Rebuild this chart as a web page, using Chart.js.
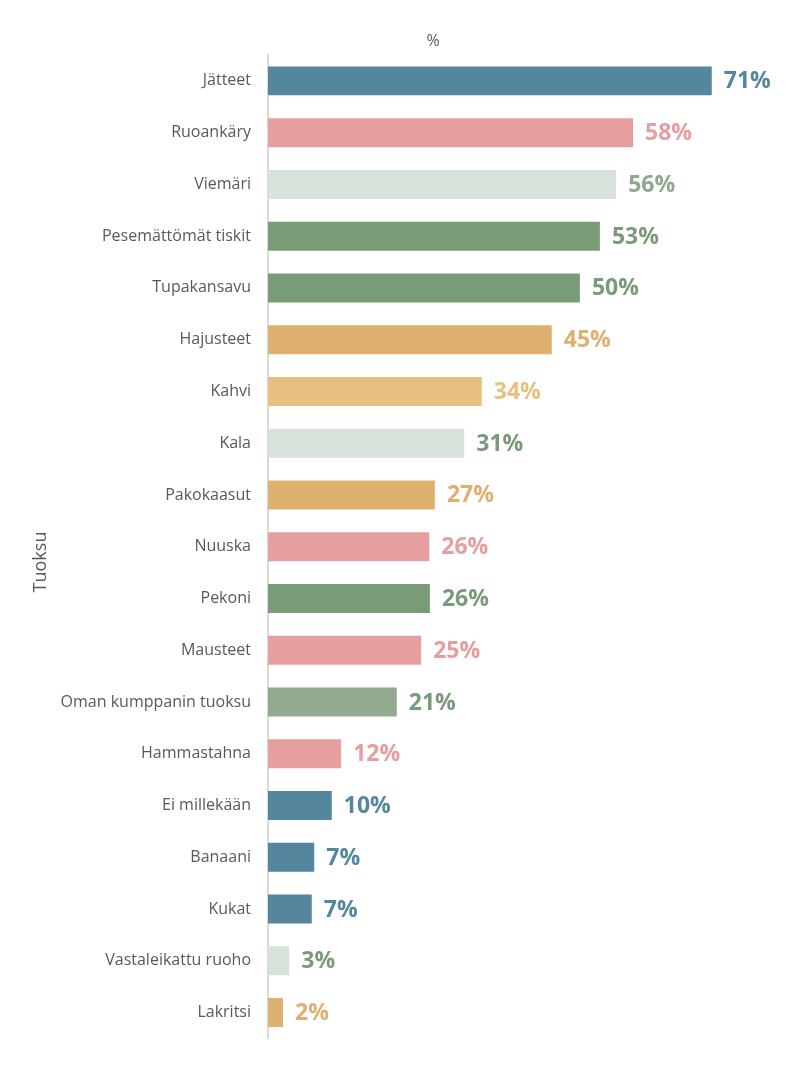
<!DOCTYPE html>
<html>
<head>
<meta charset="utf-8">
<script src="https://cdn.jsdelivr.net/npm/chart.js@4/dist/chart.umd.min.js"></script>
<style>
  html, body { margin: 0; padding: 0; background: #fff; }
  #wrap { width: 790px; height: 1065px; }
</style>
</head>
<body>
<div id="wrap"><canvas id="chart"></canvas></div>
<script>
// Tuoksut, osuus vastaajista (%)
const categories = [
    'Jätteet', 'Ruoankäry', 'Viemäri', 'Pesemättömät tiskit', 'Tupakansavu',
    'Hajusteet', 'Kahvi', 'Kala', 'Pakokaasut', 'Nuuska', 'Pekoni', 'Mausteet',
    'Oman kumppanin tuoksu', 'Hammastahna', 'Ei millekään', 'Banaani', 'Kukat',
    'Vastaleikattu ruoho', 'Lakritsi'
];
const values = [
    71.0, 58.4, 55.7, 53.1, 49.9, 45.4, 34.2, 31.4, 26.7, 25.8, 25.9, 24.5,
    20.6, 11.7, 10.2, 7.4, 7.0, 3.4, 2.4
];
const xTicks = { min: 0, max: 80 };

const BLUE = '#54879d', PINK = '#e79e9f', PALE = '#d7e2da', GREEN = '#7a9b77',
      ORANGE = '#deb170', LORANGE = '#e9bf80', MGREEN = '#92aa8f';

const barColors = [
    BLUE, PINK, PALE, GREEN, GREEN, ORANGE, LORANGE, PALE, ORANGE, PINK, GREEN, PINK,
    MGREEN, PINK, BLUE, BLUE, BLUE, PALE, ORANGE
];
const labelColors = [
    BLUE, PINK, '#8ea88c', GREEN, GREEN, ORANGE, LORANGE, GREEN, ORANGE, PINK, GREEN, PINK,
    GREEN, PINK, BLUE, BLUE, BLUE, GREEN, ORANGE
];

// value labels at bar ends, "%" caption above the plot, rotated axis title
const valueLabels = {
    id: 'valueLabels',
    afterDatasetsDraw: function (chart) {
        const ctx = chart.ctx;
        const meta = chart.getDatasetMeta(0);
        ctx.save();
        ctx.font = 'bold 23px "Open Sans", sans-serif';
        ctx.textBaseline = 'middle';
        ctx.textAlign = 'left';
        meta.data.forEach(function (bar, i) {
            ctx.fillStyle = labelColors[i];
            ctx.fillText(Math.round(values[i]) + '%', bar.x + 12, bar.y + 1);
        });
        ctx.fillStyle = '#595959';
        ctx.textAlign = 'center';
        ctx.font = '16px "Open Sans", sans-serif';
        ctx.fillText('%', 433, 41);
        ctx.translate(41, 562);
        ctx.rotate(-Math.PI / 2);
        ctx.font = '18px "Open Sans", sans-serif';
        ctx.fillText('Tuoksu', 0, 0);
        ctx.restore();
    }
};

new Chart(document.getElementById('chart'), {
    type: 'bar',
    data: {
        labels: categories,
        datasets: [{
            data: values,
            backgroundColor: barColors,
            borderWidth: 0,
            categoryPercentage: 1,
            barPercentage: 0.56
        }]
    },
    options: {
        indexAxis: 'y',
        responsive: true,
        maintainAspectRatio: false,
        animation: false,
        layout: { padding: { top: 55, bottom: 24, right: 22, left: 0 } },
        plugins: {
            legend: { display: false },
            tooltip: { enabled: false }
        },
        scales: {
            x: {
                display: false,
                min: xTicks.min,
                max: xTicks.max
            },
            y: {
                afterFit: function (scale) { scale.width = 268; },
                grid: { display: false, drawTicks: false },
                border: { display: true, color: '#d9d9d9', width: 2 },
                ticks: {
                    padding: 17,
                    color: '#595959',
                    font: { family: '"Open Sans", sans-serif', size: 16 }
                }
            }
        }
    },
    plugins: [valueLabels]
});
</script>
</body>
</html>
